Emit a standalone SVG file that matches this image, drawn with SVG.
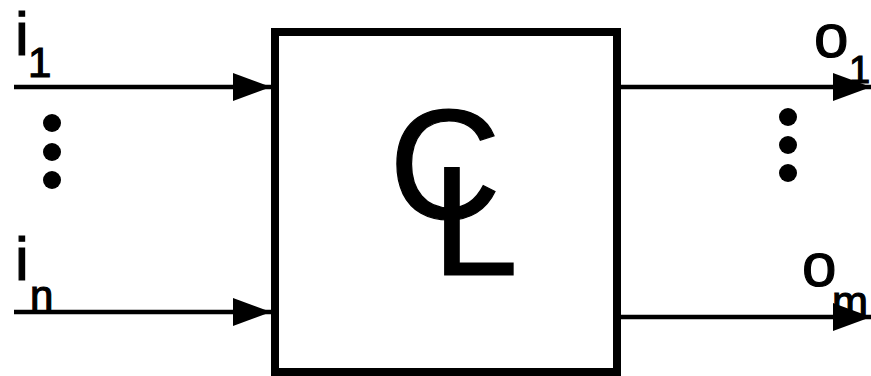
<svg xmlns="http://www.w3.org/2000/svg" width="871" height="376" viewBox="0 0 871 376">
<style>
.lbl{font-family:"Liberation Sans",Arial,sans-serif;fill:#000;stroke:#000;stroke-width:1.2}
.main{font-size:62px}
.sub{font-size:42px}
.wire{stroke:#000;stroke-width:4.5;fill:none}
.dot{fill:#000}
</style>
<defs>
<marker id="ah" markerUnits="userSpaceOnUse" markerWidth="38" markerHeight="28" viewBox="0 0 38 28" refX="38" refY="14" orient="auto">
<path d="M0,0 L38,14 L0,28 Z" fill="#000"/>
</marker>
</defs>
<rect width="871" height="376" fill="#fff"/>
<g id="block">
<rect x="275" y="32" width="342" height="340" fill="none" stroke="#000" stroke-width="8"/>
<text class="lbl" x="389" y="218" font-size="155" stroke-width="1">C</text>
<text class="lbl" x="432" y="275" font-size="155" stroke-width="1">L</text>
</g>
<g id="connectors">
<line class="wire" x1="14" y1="87" x2="271" y2="87" marker-end="url(#ah)"/>
<line class="wire" x1="14" y1="312" x2="271" y2="312" marker-end="url(#ah)"/>
<line class="wire" x1="617" y1="87" x2="871" y2="87" marker-end="url(#ah)"/>
<line class="wire" x1="617" y1="317" x2="871" y2="317" marker-end="url(#ah)"/>
</g>
<g id="in1">
<text class="lbl main" x="15" y="55">i</text>
<text class="lbl sub" x="28" y="77">1</text>
</g>
<g id="inn">
<text class="lbl main" x="15" y="280">i</text>
<text class="lbl sub" x="30" y="310">n</text>
</g>
<g id="in-dots">
<circle class="dot" cx="52" cy="123" r="9"/>
<circle class="dot" cx="52" cy="152" r="9"/>
<circle class="dot" cx="52" cy="180" r="9"/>
</g>
<g id="out1">
<text class="lbl main" x="814" y="57">o</text>
<text class="lbl" x="849" y="83" font-size="38">1</text>
</g>
<g id="outm">
<text class="lbl main" x="802" y="286">o</text>
<text class="lbl sub" x="832" y="316" textLength="36" lengthAdjust="spacingAndGlyphs">m</text>
</g>
<g id="out-dots">
<circle class="dot" cx="788" cy="117" r="9"/>
<circle class="dot" cx="788" cy="145" r="9"/>
<circle class="dot" cx="788" cy="173" r="9"/>
</g>
</svg>
